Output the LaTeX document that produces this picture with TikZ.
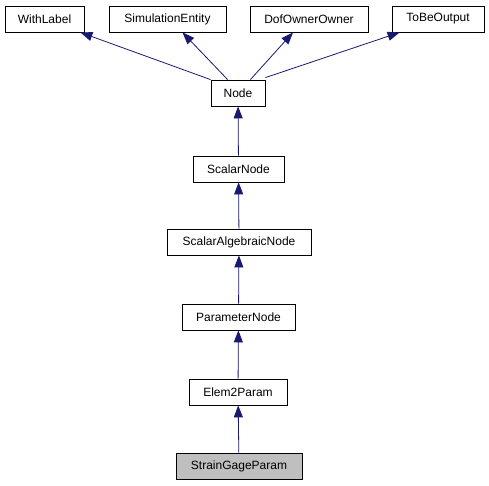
\documentclass[tikz,border=0pt]{standalone}
\usepackage{fontspec}
\setmainfont{Liberation Sans}
\usetikzlibrary{arrows.meta}
\definecolor{edgeblue}{HTML}{191970}
\definecolor{leafgray}{HTML}{BFBFBF}
\begin{document}
\begin{tikzpicture}[x=1pt,y=-1pt,
  cls/.style={draw=black,fill=white,line width=0.8pt,minimum height=26pt,inner sep=0pt,font=\fontsize{12}{14}\selectfont},
  edge/.style={draw=edgeblue,line width=0.8pt,-{Triangle[length=12pt,width=9pt,fill=edgeblue]}}]
\useasboundingbox (0,0) rectangle (489,485);
\node[cls,minimum width=79pt] (wl) at (44.5,19) {WithLabel};
\node[cls,minimum width=117pt] (se) at (167.5,19) {SimulationEntity};
\node[cls,minimum width=118pt] (doo) at (309,19) {DofOwnerOwner};
\node[cls,minimum width=92pt] (tbo) at (438,19) {ToBeOutput};
\node[cls,minimum width=54pt] (nd) at (238,93) {Node};
\node[cls,minimum width=91pt] (sn) at (238.5,169) {ScalarNode};
\node[cls,minimum width=144pt] (san) at (239,242) {ScalarAlgebraicNode};
\node[cls,minimum width=113pt] (pn) at (238.5,317) {ParameterNode};
\node[cls,minimum width=98pt] (e2p) at (238,392) {Elem2Param};
\node[cls,minimum width=126pt,fill=leafgray] (sgp) at (239,466) {StrainGageParam};
\draw[edge] (nd.north west) -- ([xshift=-4pt]wl.south east);
\draw[edge] ([xshift=17pt]nd.north west) -- ([xshift=15pt]se.south);
\draw[edge] ([xshift=-15pt]nd.north east) -- ([xshift=-16pt]doo.south);
\draw[edge] ([yshift=2pt]nd.north east) -- ([xshift=8pt]tbo.south west);
\draw[edge] (sn) -- (nd);
\draw[edge] (san) -- (sn);
\draw[edge] (pn) -- (san);
\draw[edge] (e2p) -- (pn);
\draw[edge] (sgp) -- (e2p);
\end{tikzpicture}
\end{document}
